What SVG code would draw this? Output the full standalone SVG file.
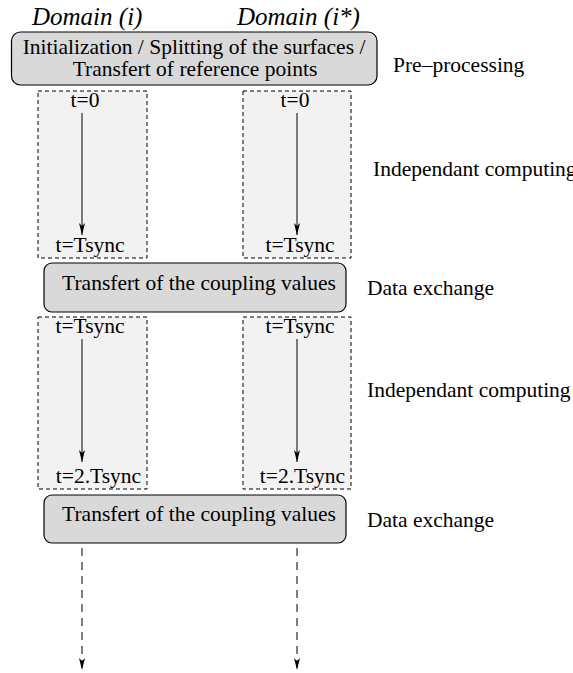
<svg xmlns="http://www.w3.org/2000/svg" width="573" height="673" viewBox="0 0 573 673">
<style>
text{font-family:"Liberation Serif","Times New Roman",serif;font-size:21.5px;fill:#000}
.it{font-style:italic;font-size:25px}
.proc{fill:#d9d9d9;stroke:#000;stroke-width:1.2}
.dom{fill:#f2f2f2;stroke:#000;stroke-width:1;stroke-dasharray:4,3}
.arr{stroke:#000;stroke-width:1;fill:none}
.darr{stroke:#000;stroke-width:1;fill:none;stroke-dasharray:8,6}
</style>
<defs>
<marker id="ah" markerWidth="12" markerHeight="6" refX="12" refY="3" orient="auto" markerUnits="userSpaceOnUse" viewBox="0 0 12 6">
<path d="M0,0 L12,3 L0,6 L3,3 Z" fill="#000"/>
</marker>
</defs>
<g id="headers">
<text class="it" x="32" y="25">Domain (i)</text>
<text class="it" x="237" y="25">Domain (i*)</text>
</g>
<g id="phase-labels">
<text x="393" y="72">Pre–processing</text>
<text x="373" y="176">Independant computing</text>
<text x="367" y="295">Data exchange</text>
<text x="367" y="397">Independant computing</text>
<text x="367" y="527">Data exchange</text>
</g>
<g id="preprocessing">
<rect class="proc" x="11.5" y="32" width="365.5" height="53" rx="9"/>
<text x="194" y="54" text-anchor="middle">Initialization / Splitting of the surfaces /</text>
<text x="195" y="76" text-anchor="middle">Transfert of reference points</text>
</g>
<g id="domain-i-step1">
<rect class="dom" x="38" y="91" width="109" height="167"/>
<text x="85" y="107" text-anchor="middle">t=0</text>
<text x="90" y="252" text-anchor="middle">t=Tsync</text>
</g>
<g id="domain-istar-step1">
<rect class="dom" x="243" y="91" width="108" height="167"/>
<text x="295" y="107" text-anchor="middle">t=0</text>
<text x="300" y="252" text-anchor="middle">t=Tsync</text>
</g>
<g id="exchange1">
<rect class="proc" x="44" y="263" width="302" height="49" rx="8"/>
<text x="199" y="290" text-anchor="middle">Transfert of the coupling values</text>
</g>
<g id="domain-i-step2">
<rect class="dom" x="38" y="317" width="109" height="172"/>
<text x="90" y="333" text-anchor="middle">t=Tsync</text>
<text x="98.5" y="483" text-anchor="middle">t=2.Tsync</text>
</g>
<g id="domain-istar-step2">
<rect class="dom" x="243" y="317" width="108" height="172"/>
<text x="300" y="333" text-anchor="middle">t=Tsync</text>
<text x="302.5" y="483" text-anchor="middle">t=2.Tsync</text>
</g>
<g id="exchange2">
<rect class="proc" x="44" y="495" width="302" height="48" rx="8"/>
<text x="199" y="521" text-anchor="middle">Transfert of the coupling values</text>
</g>
<g id="connectors">
<line class="arr" x1="82" y1="113" x2="82" y2="235" marker-end="url(#ah)"/>
<line class="arr" x1="297" y1="113" x2="297" y2="235" marker-end="url(#ah)"/>
<line class="arr" x1="82" y1="339" x2="82" y2="462" marker-end="url(#ah)"/>
<line class="arr" x1="297" y1="339" x2="297" y2="462" marker-end="url(#ah)"/>
<line class="darr" x1="82" y1="548" x2="82" y2="670" marker-end="url(#ah)"/>
<line class="darr" x1="297" y1="548" x2="297" y2="670" marker-end="url(#ah)"/>
</g>
</svg>
